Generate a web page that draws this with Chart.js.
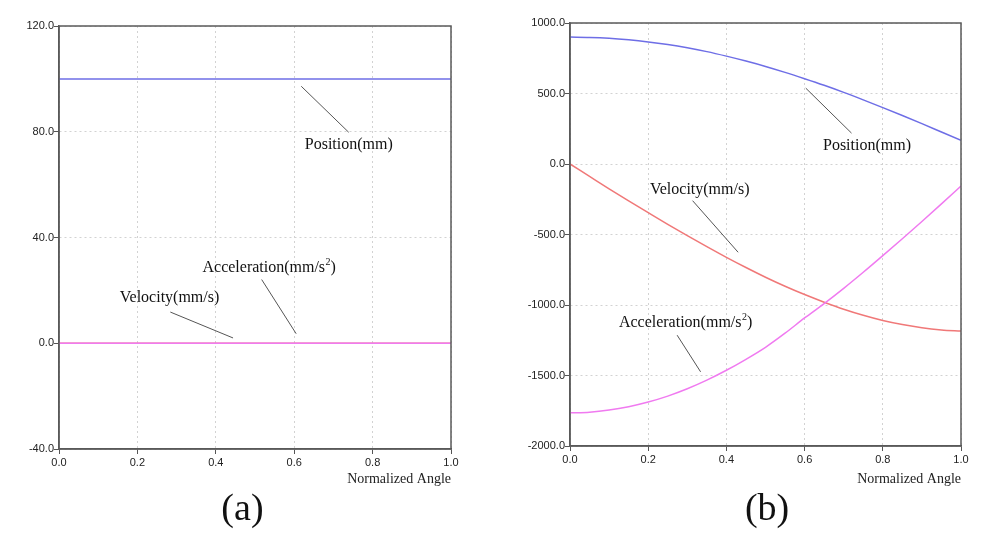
<!DOCTYPE html>
<html>
<head>
<meta charset="utf-8">
<script src="https://cdn.jsdelivr.net/npm/chart.js@4.4.1/dist/chart.umd.min.js"></script>
<style>
  html, body { margin: 0; padding: 0; background: #ffffff; }
  #wrap { position: relative; width: 1000px; height: 533px; background: #ffffff; }
  .panel { position: absolute; top: 0; width: 500px; height: 533px; }
  #pa { left: 0; }
  #pb { left: 500px; }
</style>
</head>
<body>
<div id="wrap">
  <div class="panel" id="pa"><canvas id="ca"></canvas></div>
  <div class="panel" id="pb"><canvas id="cb"></canvas></div>
</div>
<script>
// ---------- data ----------
const angles = [0.00, 0.05, 0.10, 0.15, 0.20, 0.25, 0.30, 0.35, 0.40, 0.45, 0.50,
                0.55, 0.60, 0.65, 0.70, 0.75, 0.80, 0.85, 0.90, 0.95, 1.00];

// panel (a)
const positionA     = [100, 100, 100, 100, 100, 100, 100, 100, 100, 100, 100,
                       100, 100, 100, 100, 100, 100, 100, 100, 100, 100];
const velocityA     = [0, 0, 0, 0, 0, 0, 0, 0, 0, 0, 0, 0, 0, 0, 0, 0, 0, 0, 0, 0, 0];
const accelerationA = [0, 0, 0, 0, 0, 0, 0, 0, 0, 0, 0, 0, 0, 0, 0, 0, 0, 0, 0, 0, 0];

// panel (b)
const positionB     = [900, 898, 892, 881, 866, 847, 824, 797, 765, 730, 692,
                       650, 605, 558, 508, 455, 400, 344, 286, 227, 168];
const velocityB     = [0, -88, -176, -261, -345, -428, -508, -586, -662, -734, -803,
                       -867, -926, -980, -1030, -1073, -1110, -1139, -1162, -1177, -1185];
const accelerationB = [-1765, -1760, -1745, -1721, -1688, -1646, -1594, -1533, -1463, -1385, -1300,
                       -1200, -1092, -990, -882, -768, -650, -530, -408, -283, -156];

const yRangeA = [-40, 120];
const yStepA = 40;
const yRangeB = [-2000, 1000];
const yStepB = 500;
const xRange = [0, 1];
const xStep = 0.2;

const seriesNames = ['Position(mm)', 'Velocity(mm/s)', 'Acceleration(mm/s2)'];
const xTitle = 'Normalized Angle';

// annotation labels (data units): text position + leader line end points
const notesA = [
  { text: 'Position(mm)', sup: '', tx: 0.627, ty: 73.4, x1: 0.618, y1: 97.2, x2: 0.739, y2: 79.8 },
  { text: 'Acceleration(mm/s', sup: '2', tail: ')', tx: 0.366, ty: 26.8, x1: 0.517, y1: 24.1, x2: 0.605, y2: 3.6 },
  { text: 'Velocity(mm/s)', sup: '', tx: 0.155, ty: 15.5, x1: 0.284, y1: 11.8, x2: 0.444, y2: 2.0 }
];
const notesB = [
  { text: 'Position(mm)', sup: '', tx: 0.647, ty: 100, x1: 0.603, y1: 538, x2: 0.720, y2: 219 },
  { text: 'Velocity(mm/s)', sup: '', tx: 0.2045, ty: -212, x1: 0.3135, y1: -260, x2: 0.430, y2: -626 },
  { text: 'Acceleration(mm/s', sup: '2', tail: ')', tx: 0.125, ty: -1157, x1: 0.274, y1: -1214, x2: 0.334, y2: -1474 }
];

// ---------- helpers ----------
function pts(ys) { return angles.map((x, i) => ({ x: x, y: ys[i] })); }

const frameAndNotes = {
  id: 'frameAndNotes',
  afterDatasetsDraw(chart, args, opts) {
    const ctx = chart.ctx;
    const a = chart.chartArea;
    const xs = chart.scales.x, ys = chart.scales.y;
    ctx.save();
    // frame
    ctx.strokeStyle = '#5a5a5a';
    ctx.lineWidth = 1.5;
    ctx.setLineDash([]);
    ctx.strokeRect(a.left, a.top, a.right - a.left, a.bottom - a.top);
    // annotations
    opts.notes.forEach(n => {
      ctx.strokeStyle = '#555555';
      ctx.lineWidth = 1;
      ctx.beginPath();
      ctx.moveTo(xs.getPixelForValue(n.x1), ys.getPixelForValue(n.y1));
      ctx.lineTo(xs.getPixelForValue(n.x2), ys.getPixelForValue(n.y2));
      ctx.stroke();
      let px = xs.getPixelForValue(n.tx);
      const py = ys.getPixelForValue(n.ty);
      ctx.fillStyle = '#111111';
      ctx.textAlign = 'left';
      ctx.textBaseline = 'alphabetic';
      ctx.font = '16px "Liberation Serif", "Times New Roman", serif';
      ctx.fillText(n.text, px, py);
      px += ctx.measureText(n.text).width;
      if (n.sup) {
        ctx.font = '10px "Liberation Serif", "Times New Roman", serif';
        ctx.fillText(n.sup, px + 0.5, py - 7);
        px += ctx.measureText(n.sup).width + 0.5;
        ctx.font = '16px "Liberation Serif", "Times New Roman", serif';
        ctx.fillText(n.tail, px, py);
      }
    });
    // panel letter
    ctx.fillStyle = '#111111';
    ctx.font = '38px "Liberation Serif", "Times New Roman", serif';
    ctx.textAlign = 'center';
    ctx.textBaseline = 'alphabetic';
    ctx.fillText(opts.letter, a.left + opts.letterFrac * (a.right - a.left), 520);
    ctx.restore();
  }
};

function makeChart(canvasId, pos, vel, acc, yRange, yStep, pad, yWidth, xHeight, notes, letter, letterFrac) {
  const lineCommon = { pointRadius: 0, borderWidth: 1.5, fill: false, cubicInterpolationMode: 'monotone' };
  return new Chart(document.getElementById(canvasId), {
    type: 'line',
    data: {
      datasets: [
        Object.assign({ label: seriesNames[0], data: pts(pos), borderColor: '#6e6ee6', order: 2 }, lineCommon),
        Object.assign({ label: seriesNames[1], data: pts(vel), borderColor: '#f07878', order: 1 }, lineCommon),
        Object.assign({ label: seriesNames[2], data: pts(acc), borderColor: '#f07af0', order: 0 }, lineCommon)
      ]
    },
    options: {
      responsive: true,
      maintainAspectRatio: false,
      animation: false,
      layout: { padding: pad },
      plugins: {
        legend: { display: false },
        tooltip: { enabled: false },
        frameAndNotes: { notes: notes, letter: letter, letterFrac: letterFrac }
      },
      scales: {
        x: {
          type: 'linear',
          min: xRange[0], max: xRange[1],
          afterFit: s => { s.height = xHeight; },
          ticks: {
            stepSize: xStep,
            callback: v => Number(v).toFixed(1),
            color: '#222222',
            font: { family: '"Liberation Sans", Arial, sans-serif', size: 11 },
            padding: 2,
            maxRotation: 0
          },
          grid: { color: '#d2d2d2', lineWidth: 1, tickColor: '#555555', tickLength: 5, tickBorderDash: [] },
          border: { display: true, color: '#5a5a5a', width: 1.5, dash: [2, 3] },
          title: {
            display: true, text: xTitle, align: 'end',
            color: '#222222',
            font: { family: '"Liberation Serif", "Times New Roman", serif', size: 14 },
            padding: { top: 0, bottom: 45 }
          }
        },
        y: {
          type: 'linear',
          min: yRange[0], max: yRange[1],
          afterFit: s => { s.width = yWidth; },
          ticks: {
            stepSize: yStep,
            callback: v => Number(v).toFixed(1),
            color: '#222222',
            font: { family: '"Liberation Sans", Arial, sans-serif', size: 11 },
            padding: 0
          },
          grid: { color: '#d2d2d2', lineWidth: 1, tickColor: '#555555', tickLength: 5, tickBorderDash: [] },
          border: { display: true, color: '#5a5a5a', width: 1.5, dash: [2, 3] }
        }
      }
    },
    plugins: [frameAndNotes]
  });
}

makeChart('ca', positionA, velocityA, accelerationA, yRangeA, yStepA,
  { left: 0, right: 49, top: 26, bottom: 0 }, 59, 84, notesA, '(a)', 0.468);
makeChart('cb', positionB, velocityB, accelerationB, yRangeB, yStepB,
  { left: 0, right: 39, top: 23, bottom: 0 }, 70, 87, notesB, '(b)', 0.504);
</script>
</body>
</html>
